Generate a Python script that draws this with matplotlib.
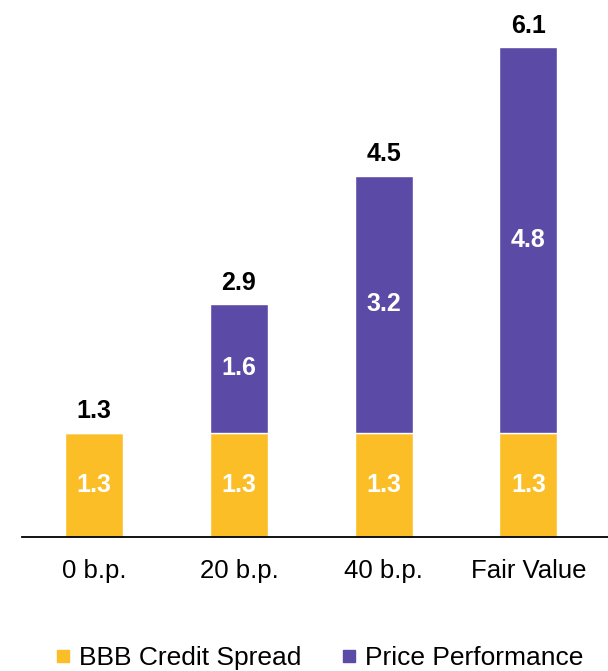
import matplotlib.pyplot as plt
from matplotlib.lines import Line2D

plt.rcParams['font.family'] = ['Liberation Sans', 'DejaVu Sans']

categories = ["0 b.p.", "20 b.p.", "40 b.p.", "Fair Value"]
credit_spread = [1.3, 1.3, 1.3, 1.3]
price_perf = [0.0, 1.6, 3.2, 4.8]
totals = [1.3, 2.9, 4.5, 6.1]

yellow = "#FBBE26"
purple = "#5B4AA6"

fig = plt.figure(figsize=(6.08, 6.71), dpi=100)
ax = fig.add_axes([0.036, 0.1997, 0.964, 0.8003])

x = list(range(len(categories)))
ax.bar(x, credit_spread, width=0.4, color=yellow, edgecolor="white", linewidth=1)
ax.bar(x, price_perf, width=0.4, bottom=credit_spread, color=purple,
       edgecolor="white", linewidth=1)

for i in x:
    ax.text(i, credit_spread[i] / 2, f"{credit_spread[i]:.1f}", ha="center", va="center",
            color="white", fontsize=18, fontweight="bold")
    if price_perf[i] > 0:
        ax.text(i, credit_spread[i] + price_perf[i] / 2, f"{price_perf[i]:.1f}",
                ha="center", va="center", color="white", fontsize=18, fontweight="bold")
    ax.text(i, totals[i] + 0.12, f"{totals[i]:.1f}", ha="center", va="bottom",
            color="black", fontsize=18, fontweight="bold")

ax.set_xlim(-0.5, 3.55)
ax.set_ylim(0, 6.69)
ax.set_xticks(x)
ax.set_xticklabels(categories, fontsize=18.5)
ax.tick_params(axis="x", length=0, pad=16)
ax.set_yticks([])
for s in ["top", "right", "left"]:
    ax.spines[s].set_visible(False)
ax.spines["bottom"].set_linewidth(1.3)

handles = [
    Line2D([], [], marker="s", linestyle="none", markersize=9, color=yellow),
    Line2D([], [], marker="s", linestyle="none", markersize=9, color=purple),
]
fig.legend(handles, ["BBB Credit Spread", "Price Performance"], loc="center",
           bbox_to_anchor=(0.525, 0.019), ncol=2, frameon=False, fontsize=19,
           handlelength=0.6, handletextpad=0.3, columnspacing=1.5)

fig.savefig("out.png", dpi=100)
